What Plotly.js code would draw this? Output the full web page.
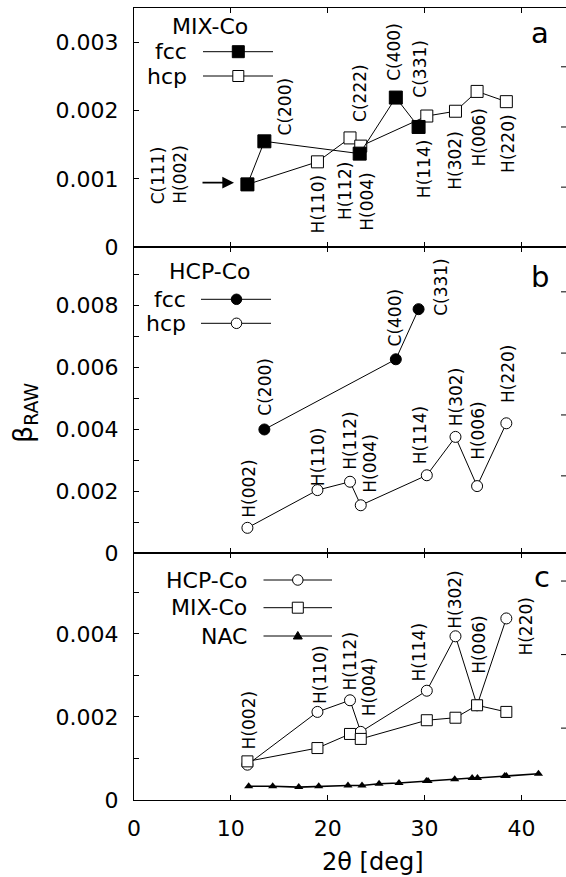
<!DOCTYPE html>
<html><head><meta charset="utf-8">
<script src="https://cdn.plot.ly/plotly-3.0.1.min.js"></script>
<style>html,body{margin:0;padding:0;background:#fff}</style>
</head><body><div id="chart" style="width:566px;height:877px"></div>
<script>
// ---------- DATA ----------
// common 2theta positions of hcp reflections
const hcpX = [11.71, 18.94, 22.30, 23.41, 30.23, 33.19, 35.42, 38.44];
const hcpLabels = ['H(002)','H(110)','H(112)','H(004)','H(114)','H(302)','H(006)','H(220)'];
// Panel a: MIX-Co
const mixFccX = [11.71, 13.46, 23.30, 27.03, 29.38];
const mixFccY = [0.00092, 0.00155, 0.00137, 0.00219, 0.00176];
const mixFccLabels = ['C(111)', 'C(200)', 'C(222)', 'C(400)', 'C(331)'];
const mixHcpY = [0.00092, 0.00125, 0.00160, 0.00148, 0.00192, 0.00199, 0.00228, 0.00213];
// Panel b: HCP-Co
const hcpFccX = [13.46, 27.03, 29.38];
const hcpFccY = [0.00400, 0.00627, 0.00789];
const hcpFccLabels = ['C(200)', 'C(400)', 'C(331)'];
const hcpHcpY = [0.00082, 0.00204, 0.00231, 0.00155, 0.00252, 0.00376, 0.00217, 0.00420];
// Panel c: comparison
const cHcpY = [0.00085, 0.00212, 0.00240, 0.00164, 0.00263, 0.00394, 0.00228, 0.00437];
const cMixY = [0.00093, 0.00125, 0.00159, 0.00147, 0.00192, 0.00198, 0.00228, 0.00212];
const nacX = [11.84, 14.32, 17.01, 19.07, 22.09, 23.54, 25.30, 27.36, 30.19, 30.36, 33.11, 34.91, 35.46, 38.27, 38.44, 41.76];
const nacY = [0.00033, 0.00033, 0.00031, 0.00033, 0.00035, 0.00035, 0.00039, 0.00041, 0.00046, 0.00046, 0.00050, 0.00053, 0.00053, 0.00058, 0.00058, 0.00063];
// Ticks
const xTicks = [0, 10, 20, 30, 40];
const aTicks = [0, 0.001, 0.002, 0.003];
const aTickText = ['0', '0.001', '0.002', '0.003'];
const bTicks = [0, 0.001, 0.002, 0.003, 0.004, 0.005, 0.006, 0.007, 0.008, 0.009];
const bTickText = ['0', '', '0.002', '', '0.004', '', '0.006', '', '0.008', ''];
const cTicks = [0, 0.001, 0.002, 0.003, 0.004, 0.005];
const cTickText = ['0', '', '0.002', '', '0.004', ''];
const rightTicksA = [0.00088, 0.00176, 0.00264];
const rightTicksB = [0.0025, 0.00447, 0.00647, 0.00845];
const rightTicksC = [0.00173, 0.0035, 0.00527];
const legendA = ['MIX-Co', 'fcc', 'hcp'];
const legendB = ['HCP-Co', 'fcc', 'hcp'];
const legendC = ['HCP-Co', 'MIX-Co', 'NAC'];
const panelLetters = ['a', 'b', 'c'];

// ---------- STYLE / LAYOUT ----------
const FONT = 'DejaVu Sans';
const L = 134, T = 8, PW = 432, PH = 792;
const px = v => (v - L) / PW;
const py = v => (T + PH - v) / PH;
const domA = [py(247.3), 1], domB = [py(553.2), py(247.3)], domC = [0, py(553.2)];

const lineS = {color: 'black', width: 1};
const openSq = {symbol: 'square', size: 12, color: 'white', line: {color: 'black', width: 1}};
const fillSq = {symbol: 'square', size: 13, color: 'black', line: {color: 'black', width: 1}};
const openCi = {symbol: 'circle', size: 11, color: 'white', line: {color: 'black', width: 1}};
const fillCi = {symbol: 'circle', size: 11, color: 'black', line: {color: 'black', width: 1}};

const traces = [
  {x: hcpX, y: mixHcpY, xaxis: 'x', yaxis: 'y', mode: 'lines+markers', line: lineS, marker: openSq},
  {x: mixFccX, y: mixFccY, xaxis: 'x', yaxis: 'y', mode: 'lines+markers', line: lineS, marker: fillSq},
  {x: hcpFccX, y: hcpFccY, xaxis: 'x2', yaxis: 'y2', mode: 'lines+markers', line: lineS, marker: fillCi},
  {x: hcpX, y: hcpHcpY, xaxis: 'x2', yaxis: 'y2', mode: 'lines+markers', line: lineS, marker: openCi},
  {x: hcpX, y: cHcpY, xaxis: 'x3', yaxis: 'y3', mode: 'lines+markers', line: lineS, marker: openCi},
  {x: hcpX, y: cMixY, xaxis: 'x3', yaxis: 'y3', mode: 'lines+markers', line: lineS, marker: {symbol: 'square', size: 11, color: 'white', line: {color: 'black', width: 1}}},
  {x: nacX, y: nacY, xaxis: 'x3', yaxis: 'y3', mode: 'lines+markers', line: {color: 'black', width: 1.6}, marker: {symbol: 'triangle-up', size: 8, color: 'black'}}
].map(t => Object.assign({showlegend: false, hoverinfo: 'skip', cliponaxis: false}, t));

// label offsets (pixels) relative to the marker
const offA_fcc = [[-89.4, 9.1], [20.5, 34.7], [1, 60.4], [-2.6, 46], [1.8, 58.7]];
const offA_hcp = [[-67.7, 10.4], [0, -42.1], [-5.5, -52.7], [5.4, -55.5], [-2.9, -52.2], [-0.7, -48.7], [2, -46], [1.7, -42.2]];
const offB_fcc = [[0.6, 42.8], [-0.8, 41.8], [22.2, 22.1]];
const offB_hcp = [[1.3, 39.8], [0, 33.4], [0, 40.9], [9, 42.3], [-6.5, 40.3], [0, 40.2], [1, 55.3], [2.4, 50]];
const offC_hcp = [[1.3, 45], [1.8, 37.2], [0, 38.8], [9, 45.4], [-7.6, 38.5], [0, 37], [2, 60.5], [18.7, -8.1]];

const ann = [];
function labels(xs, ys, texts, offs, xr, yr) {
  texts.forEach((t, i) => ann.push({xref: xr, yref: yr, x: xs[i], y: ys[i], text: t, showarrow: false,
    textangle: -90, xshift: offs[i][0], yshift: offs[i][1], font: {size: 17, family: FONT, color: 'black'}}));
}
labels(mixFccX, mixFccY, mixFccLabels, offA_fcc, 'x', 'y');
labels(hcpX, mixHcpY, hcpLabels, offA_hcp, 'x', 'y');
labels(hcpFccX, hcpFccY, hcpFccLabels, offB_fcc, 'x2', 'y2');
labels(hcpX, hcpHcpY, hcpLabels, offB_hcp, 'x2', 'y2');
labels(hcpX, cHcpY, hcpLabels, offC_hcp, 'x3', 'y3');

// arrow pointing to the first MIX-Co peak
ann.push({xref: 'paper', yref: 'paper', x: px(234), y: py(182.7), ax: -33, ay: 0, text: '',
  showarrow: true, arrowhead: 2, arrowsize: 1.3, arrowwidth: 1.8, arrowcolor: 'black'});

// legend texts
function txt(x, y, t, anchor, size) {
  ann.push({xref: 'paper', yref: 'paper', x: px(x), y: py(y), text: t, showarrow: false,
    xanchor: anchor, yanchor: 'middle', font: {size: size || 22, family: FONT, color: 'black'}});
}
txt(210, 26.7, legendA[0], 'center'); txt(189, 51.7, legendA[1], 'right'); txt(189, 76, legendA[2], 'right');
txt(209, 271.7, legendB[0], 'center'); txt(188, 299.3, legendB[1], 'right'); txt(188, 323.3, legendB[2], 'right');
txt(249, 580, legendC[0], 'right'); txt(249, 607.7, legendC[1], 'right'); txt(249, 636, legendC[2], 'right');
txt(540, 33, panelLetters[0], 'center', 29); txt(540, 276.7, panelLetters[1], 'center', 29); txt(541.7, 576.7, panelLetters[2], 'center', 29);
// axis titles
ann.push({xref: 'paper', yref: 'paper', x: px(372.5), y: py(861.5), text: '2θ [deg]', showarrow: false,
  xanchor: 'center', yanchor: 'middle', font: {size: 24, family: FONT, color: 'black'}});
ann.push({xref: 'paper', yref: 'paper', x: px(24), y: py(413), text: 'β<sub>RAW</sub>', showarrow: false, textangle: -90,
  xanchor: 'center', yanchor: 'middle', font: {size: 27, family: FONT, color: 'black'}});

// legend samples & right-side ticks (shapes)
const shapes = [];
function legLine(x0, x1, y) { shapes.push({type: 'line', xref: 'paper', yref: 'paper', x0: px(x0), x1: px(x1), y0: py(y), y1: py(y), line: {color: 'black', width: 1}}); }
function legMark(type, x, y, s, fill, path) {
  const sh = {type: type, xref: 'paper', yref: 'paper', xsizemode: 'pixel', ysizemode: 'pixel', xanchor: px(x), yanchor: py(y),
    fillcolor: fill, line: {color: 'black', width: 1}};
  if (path) sh.path = path; else { sh.x0 = -s / 2; sh.x1 = s / 2; sh.y0 = -s / 2; sh.y1 = s / 2; }
  shapes.push(sh);
}
legLine(203, 273, 51.7); legMark('rect', 238.3, 51.7, 12, 'black');
legLine(203, 273, 76); legMark('rect', 238.3, 76, 11, 'white');
legLine(201, 271, 299.3); legMark('circle', 236.5, 299.3, 10.5, 'black');
legLine(201, 271, 323.3); legMark('circle', 236.5, 323.3, 10.5, 'white');
legLine(263.5, 332, 580); legMark('circle', 297.8, 580, 10.5, 'white');
legLine(263.5, 332, 607.7); legMark('rect', 297.8, 607.7, 11, 'white');
legLine(263.5, 332, 636); legMark('path', 297.8, 636, 0, 'black', 'M-4.5,-3 L4.5,-3 L0,4.5 Z');
function rightTicks(vals, yr) {
  vals.forEach(v => shapes.push({type: 'line', xref: 'paper', yref: yr, xsizemode: 'pixel', xanchor: 1, x0: -5, x1: 0, y0: v, y1: v, line: {color: 'black', width: 1}}));
}
rightTicks(rightTicksA, 'y'); rightTicks(rightTicksB, 'y2'); rightTicks(rightTicksC, 'y3');

const xBase = {range: [0, 44.6], showline: true, linecolor: 'black', linewidth: 1, mirror: 'ticks',
  ticks: 'inside', ticklen: 5, tickcolor: 'black', tickvals: xTicks, showgrid: false, zeroline: false};
const yBase = {showline: true, linecolor: 'black', linewidth: 1, mirror: false, ticks: 'inside', ticklen: 5,
  tickcolor: 'black', showgrid: false, zeroline: false, ticklabelstandoff: 10};

const layout = {
  width: 566, height: 877, margin: {l: L, r: 0, t: T, b: 877 - T - PH},
  paper_bgcolor: 'white', plot_bgcolor: 'white',
  font: {family: FONT, size: 22, color: 'black'},
  xaxis: Object.assign({}, xBase, {anchor: 'y', showticklabels: false}),
  xaxis2: Object.assign({}, xBase, {anchor: 'y2', showticklabels: false}),
  xaxis3: Object.assign({}, xBase, {anchor: 'y3', ticktext: xTicks.map(String), showticklabels: true, ticklabelstandoff: 9}),
  yaxis: Object.assign({}, yBase, {domain: domA, range: [0, 0.0035], tickvals: aTicks, ticktext: aTickText}),
  yaxis2: Object.assign({}, yBase, {domain: domB, range: [0, 0.00989], tickvals: bTicks, ticktext: bTickText}),
  yaxis3: Object.assign({}, yBase, {domain: domC, range: [0, 0.00594], tickvals: cTicks, ticktext: cTickText}),
  annotations: ann,
  shapes: shapes
};
Plotly.newPlot('chart', traces, layout, {staticPlot: true, displayModeBar: false});
</script></body></html>
